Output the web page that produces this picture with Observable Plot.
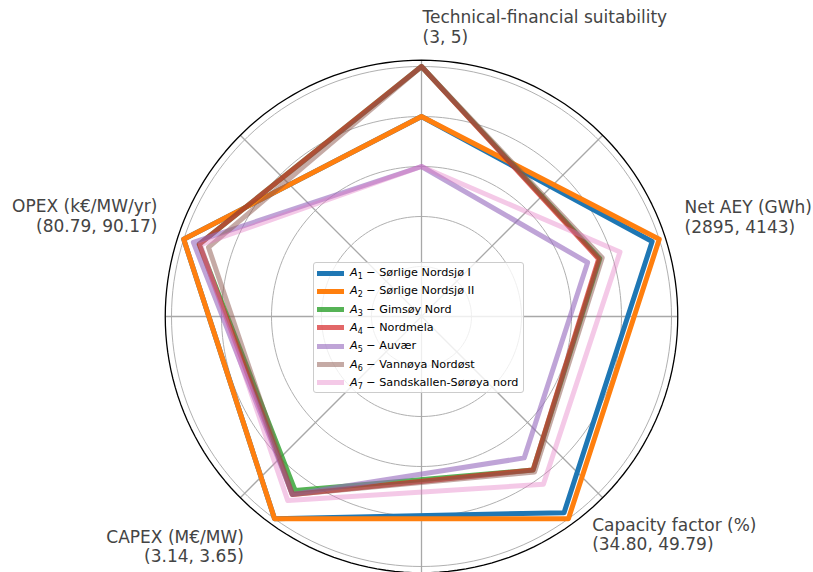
<!DOCTYPE html>
<html>
<head>
<meta charset="utf-8">
<script src="https://cdn.jsdelivr.net/npm/d3@7"></script>
<script src="https://cdn.jsdelivr.net/npm/@observablehq/plot@0.6"></script>
<style>
  body { margin: 0; background: #fff; font-family: "DejaVu Sans", sans-serif; }
  #chart { position: relative; width: 813px; height: 572px; }
  .legend {
    position: absolute; left: 313px; top: 262px; width: 211px; height: 131px;
    box-sizing: border-box; border: 1px solid #cccccc; border-radius: 3px;
    background: rgba(255, 255, 255, 0.8); font-size: 11.2px; color: #000;
  }
  .legend .row { position: absolute; left: 0; height: 18px; line-height: 18px; white-space: nowrap; }
  .legend .handle { position: absolute; left: 3px; top: 6.5px; width: 27px; height: 5px; }
  .legend .label { position: absolute; left: 36px; top: 0; }
  .legend sub { font-size: 8px; vertical-align: -2.5px; line-height: 0; }
</style>
</head>
<body>
<div id="chart"></div>
<script>
// Criteria (radar axes, clockwise from the top) and the (min, max) range of each
const criteria = [
  "Technical-financial suitability",
  "Net AEY (GWh)",
  "Capacity factor (%)",
  "CAPEX (M€/MW)",
  "OPEX (k€/MW/yr)"
];
const rangeLabels = ["(3, 5)", "(2895, 4143)", "(34.80, 49.79)", "(3.14, 3.65)", "(80.79, 90.17)"];
// Costs are scored as min / value, benefits as value / max
const isCost = [false, false, false, true, true];

// Candidate sites
const sites = [
  "Sørlige Nordsjø I",
  "Sørlige Nordsjø II",
  "Gimsøy Nord",
  "Nordmela",
  "Auvær",
  "Vannøya Nordøst",
  "Sandskallen-Sørøya nord"
];

// Raw criterion values per site
const suitability    = [4, 4, 5, 5, 3, 5, 3];
const netAEY         = [4019, 4143, 3107, 3087, 2895, 3149, 3459];
const capacityFactor = [48.3, 49.79, 37.8, 37.8, 34.80, 38.3, 41.3];
const capex          = [3.14, 3.14, 3.65, 3.57, 3.57, 3.57, 3.45];
const opex           = [80.79, 80.79, 86.4, 86.4, 84.2, 90.17, 86.9];

// Styling per site
const colors    = ["#1f77b4", "#ff7f0e", "#2ca02c", "#d62728", "#9467bd", "#8c564b", "#e377c2"];
const opacities = [1, 1, 0.8, 0.7, 0.6, 0.5, 0.4];

// ---- geometry helpers ----
const columns = [suitability, netAEY, capacityFactor, capex, opex];
const angleOf = (i) => Math.PI / 2 - i * 2 * Math.PI / criteria.length;
const polar = (r, theta) => ({x: r * Math.cos(theta), y: r * Math.sin(theta)});

// normalised score of site s on criterion c
function score(c, s) {
  const col = columns[c];
  return isCost[c] ? d3.min(col) / col[s] : col[s] / d3.max(col);
}

// polygon vertices per site
const polygons = sites.map((site, s) =>
  criteria.map((crit, c) => ({site, ...polar(score(c, s), angleOf(c))}))
);

// polar grid: rings, frame and spokes
const FRAME = 1.025;
const ringRadii = [0.2, 0.4, 0.6, 0.8, 1.0];
const ringPts = (r) => d3.range(0, 361, 2).map((a) => ({r, ...polar(r, a * Math.PI / 180)}));
const rings = ringRadii.flatMap(ringPts);
const frame = ringPts(FRAME);
const spokes = d3.range(0, 360, 45).map((a) => ({a, ...polar(FRAME, a * Math.PI / 180)}));

// axis labels: anchor just outside the frame, nudged in pixels
const LABEL_R = 1.1;
const labelNudge = [[1, -15], [1.5, -15], [9, -4.5], [-16, 7.5], [-2.5, -16]];
const UNIT = 250; // pixels per unit radius
const labels = criteria.map((name, c) => {
  const p = polar(LABEL_R, angleOf(c));
  return {
    text: name + "\n" + rangeLabels[c],
    x: p.x + labelNudge[c][0] / UNIT,
    y: p.y - labelNudge[c][1] / UNIT,
    right: Math.cos(angleOf(c)) < -0.01
  };
});

const W = 813, H = 572, CX = 421, CY = 316;

const chart = Plot.plot({
  width: W,
  height: H,
  margin: 0,
  x: {domain: [-CX / UNIT, (W - CX) / UNIT], axis: null},
  y: {domain: [-(H - CY) / UNIT, CY / UNIT], axis: null},
  style: {fontFamily: "DejaVu Sans, sans-serif", background: "#fff"},
  marks: [
    Plot.line(rings, {x: "x", y: "y", z: "r", stroke: "#b0b0b0", strokeWidth: 1}),
    Plot.link(spokes, {x1: 0, y1: 0, x2: "x", y2: "y", stroke: "#a8a8a8", strokeWidth: 1.3}),
    Plot.line(frame, {x: "x", y: "y", stroke: "#000", strokeWidth: 1.3}),
    ...polygons.map((pts, s) =>
      Plot.line(pts, {
        x: "x", y: "y",
        curve: "linear-closed",
        stroke: colors[s],
        strokeOpacity: opacities[s],
        strokeWidth: 5,
        strokeLinejoin: "round"
      })
    ),
    Plot.text(labels.filter((d) => !d.right), {
      x: "x", y: "y", text: "text", textAnchor: "start",
      fontSize: 17, lineHeight: 1.15, fill: "#444"
    }),
    Plot.text(labels.filter((d) => d.right), {
      x: "x", y: "y", text: "text", textAnchor: "end",
      fontSize: 17, lineHeight: 1.15, fill: "#444"
    })
  ]
});

const root = document.getElementById("chart");
root.appendChild(chart);

// legend box in the middle of the radar
const legend = d3.select(root).append("div").attr("class", "legend");
sites.forEach((site, s) => {
  const row = legend.append("div").attr("class", "row").style("top", (1 + s * 18.33) + "px");
  row.append("span").attr("class", "handle")
    .style("background", colors[s]).style("opacity", opacities[s]);
  row.append("span").attr("class", "label")
    .html(`<i>A</i><sub>${s + 1}</sub> − ${site}`);
});
</script>
</body>
</html>
